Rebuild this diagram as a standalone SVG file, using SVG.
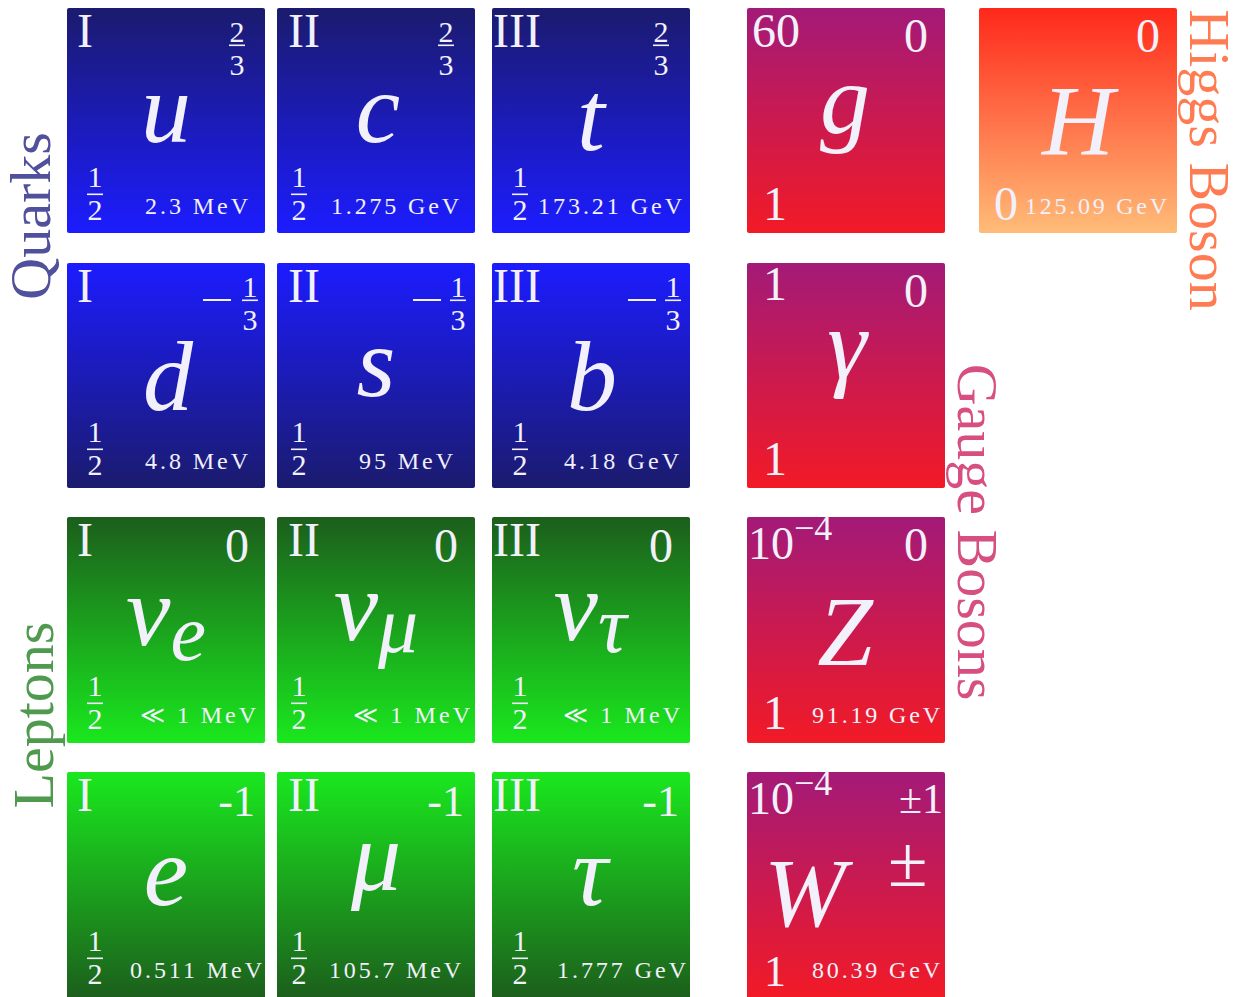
<svg xmlns="http://www.w3.org/2000/svg" width="1241" height="997" viewBox="0 0 1241 997">
<style>
text{font-family:"Liberation Serif","DejaVu Serif",serif;fill:#f2f0fa}
.gen{font-size:48px}
.fr{font-size:30px;text-anchor:middle}
.ch{font-size:48px;text-anchor:middle}
.neg{font-size:44px;text-anchor:end}
.sym{font-size:100px;font-style:italic;text-anchor:middle}
.ms{font-size:24px}
.sp{font-size:48px;text-anchor:middle}
.lbl{font-size:58px;text-anchor:middle}
.bar{fill:#f2f0fa}
</style>
<defs>
<linearGradient id="qa" x1="0" y1="0" x2="0" y2="1"><stop offset="0" stop-color="#1b1b6e"/><stop offset="1" stop-color="#1c1cff"/></linearGradient>
<linearGradient id="qb" x1="0" y1="0" x2="0" y2="1"><stop offset="0" stop-color="#1c1cff"/><stop offset="1" stop-color="#1b1b6e"/></linearGradient>
<linearGradient id="la" x1="0" y1="0" x2="0" y2="1"><stop offset="0" stop-color="#1c5e1c"/><stop offset="1" stop-color="#1ae81e"/></linearGradient>
<linearGradient id="lb" x1="0" y1="0" x2="0" y2="1"><stop offset="0" stop-color="#1ae81e"/><stop offset="1" stop-color="#1c5e1c"/></linearGradient>
<linearGradient id="gb" x1="0" y1="0" x2="0" y2="1"><stop offset="0" stop-color="#a31a78"/><stop offset="1" stop-color="#f21a26"/></linearGradient>
<linearGradient id="hg" x1="0" y1="0" x2="0" y2="1"><stop offset="0" stop-color="#ff281a"/><stop offset="1" stop-color="#ffbc78"/></linearGradient>
</defs>

<!-- Quarks row 1 -->
<g id="up">
<rect x="67" y="8" width="198" height="225" rx="2" fill="url(#qa)"/>
<text class="gen" x="77" y="47">I</text>
<text class="fr" x="237" y="42">2</text><rect class="bar" x="229" y="44.5" width="16" height="1.6"/><text class="fr" x="237" y="75">3</text>
<text class="sym" x="166" y="142">u</text>
<text class="fr" x="95" y="187">1</text><rect class="bar" x="87" y="193.5" width="16" height="1.6"/><text class="fr" x="95" y="220">2</text>
<text class="ms" x="145" y="214" textLength="103" lengthAdjust="spacing">2.3 MeV</text>
</g>
<g id="charm">
<rect x="277" y="8" width="198" height="225" rx="2" fill="url(#qa)"/>
<text class="gen" x="288" y="47">II</text>
<text class="fr" x="446" y="42">2</text><rect class="bar" x="438" y="44.5" width="16" height="1.6"/><text class="fr" x="446" y="75">3</text>
<text class="sym" x="378" y="142">c</text>
<text class="fr" x="299" y="187">1</text><rect class="bar" x="291" y="193.5" width="16" height="1.6"/><text class="fr" x="299" y="220">2</text>
<text class="ms" x="331" y="214" textLength="128" lengthAdjust="spacing">1.275 GeV</text>
</g>
<g id="top">
<rect x="492" y="8" width="198" height="225" rx="2" fill="url(#qa)"/>
<text class="gen" x="493" y="47">III</text>
<text class="fr" x="661" y="42">2</text><rect class="bar" x="653" y="44.5" width="16" height="1.6"/><text class="fr" x="661" y="75">3</text>
<text class="sym" x="591" y="150">t</text>
<text class="fr" x="520" y="187">1</text><rect class="bar" x="512" y="193.5" width="16" height="1.6"/><text class="fr" x="520" y="220">2</text>
<text class="ms" x="538" y="214" textLength="144" lengthAdjust="spacing">173.21 GeV</text>
</g>

<!-- Quarks row 2 -->
<g id="down">
<rect x="67" y="263" width="198" height="225" rx="2" fill="url(#qb)"/>
<text class="gen" x="77" y="302">I</text>
<rect class="bar" x="203" y="299" width="28" height="2"/>
<text class="fr" x="250" y="297">1</text><rect class="bar" x="242" y="299.5" width="16" height="1.6"/><text class="fr" x="250" y="330">3</text>
<text class="sym" x="168" y="410">d</text>
<text class="fr" x="95" y="442">1</text><rect class="bar" x="87" y="448.5" width="16" height="1.6"/><text class="fr" x="95" y="475">2</text>
<text class="ms" x="145" y="469" textLength="103" lengthAdjust="spacing">4.8 MeV</text>
</g>
<g id="strange">
<rect x="277" y="263" width="198" height="225" rx="2" fill="url(#qb)"/>
<text class="gen" x="288" y="302">II</text>
<rect class="bar" x="413" y="299" width="28" height="2"/>
<text class="fr" x="458" y="297">1</text><rect class="bar" x="450" y="299.5" width="16" height="1.6"/><text class="fr" x="458" y="330">3</text>
<text class="sym" x="376" y="396">s</text>
<text class="fr" x="299" y="442">1</text><rect class="bar" x="291" y="448.5" width="16" height="1.6"/><text class="fr" x="299" y="475">2</text>
<text class="ms" x="359" y="469" textLength="94" lengthAdjust="spacing">95 MeV</text>
</g>
<g id="bottom">
<rect x="492" y="263" width="198" height="225" rx="2" fill="url(#qb)"/>
<text class="gen" x="493" y="302">III</text>
<rect class="bar" x="628" y="299" width="28" height="2"/>
<text class="fr" x="673" y="297">1</text><rect class="bar" x="665" y="299.5" width="16" height="1.6"/><text class="fr" x="673" y="330">3</text>
<text class="sym" x="592" y="410">b</text>
<text class="fr" x="520" y="442">1</text><rect class="bar" x="512" y="448.5" width="16" height="1.6"/><text class="fr" x="520" y="475">2</text>
<text class="ms" x="564" y="469" textLength="115" lengthAdjust="spacing">4.18 GeV</text>
</g>

<!-- Leptons row 3 -->
<g id="nu-e">
<rect x="67" y="517" width="198" height="226" rx="2" fill="url(#la)"/>
<text class="gen" x="77" y="556">I</text>
<text class="ch" x="237" y="562">0</text>
<text class="sym" x="166" y="645">ν<tspan font-size="80" dy="15">e</tspan></text>
<text class="fr" x="95" y="696">1</text><rect class="bar" x="87" y="702.5" width="16" height="1.6"/><text class="fr" x="95" y="729">2</text>
<text class="ms" x="140" y="723" textLength="116" lengthAdjust="spacing">≪ 1 MeV</text>
</g>
<g id="nu-mu">
<rect x="277" y="517" width="198" height="226" rx="2" fill="url(#la)"/>
<text class="gen" x="288" y="556">II</text>
<text class="ch" x="446" y="562">0</text>
<text class="sym" x="376" y="640">ν<tspan font-size="80" dy="12">μ</tspan></text>
<text class="fr" x="299" y="696">1</text><rect class="bar" x="291" y="702.5" width="16" height="1.6"/><text class="fr" x="299" y="729">2</text>
<text class="ms" x="353" y="723" textLength="117" lengthAdjust="spacing">≪ 1 MeV</text>
</g>
<g id="nu-tau">
<rect x="492" y="517" width="198" height="226" rx="2" fill="url(#la)"/>
<text class="gen" x="493" y="556">III</text>
<text class="ch" x="661" y="562">0</text>
<text class="sym" x="590" y="640">ν<tspan font-size="80" dy="12">τ</tspan></text>
<text class="fr" x="520" y="696">1</text><rect class="bar" x="512" y="702.5" width="16" height="1.6"/><text class="fr" x="520" y="729">2</text>
<text class="ms" x="563" y="723" textLength="117" lengthAdjust="spacing">≪ 1 MeV</text>
</g>

<!-- Leptons row 4 -->
<g id="electron">
<rect x="67" y="772" width="198" height="227" rx="2" fill="url(#lb)"/>
<text class="gen" x="77" y="811">I</text>
<text class="neg" x="255" y="816">-1</text>
<text class="sym" x="166" y="905">e</text>
<text class="fr" x="95" y="951">1</text><rect class="bar" x="87" y="957.5" width="16" height="1.6"/><text class="fr" x="95" y="984">2</text>
<text class="ms" x="130" y="978" textLength="132" lengthAdjust="spacing">0.511 MeV</text>
</g>
<g id="muon">
<rect x="277" y="772" width="198" height="227" rx="2" fill="url(#lb)"/>
<text class="gen" x="288" y="811">II</text>
<text class="neg" x="464" y="816">-1</text>
<text class="sym" x="376" y="890">μ</text>
<text class="fr" x="299" y="951">1</text><rect class="bar" x="291" y="957.5" width="16" height="1.6"/><text class="fr" x="299" y="984">2</text>
<text class="ms" x="329" y="978" textLength="132" lengthAdjust="spacing">105.7 MeV</text>
</g>
<g id="tau">
<rect x="492" y="772" width="198" height="227" rx="2" fill="url(#lb)"/>
<text class="gen" x="493" y="811">III</text>
<text class="neg" x="679" y="816">-1</text>
<text class="sym" x="590" y="905">τ</text>
<text class="fr" x="520" y="951">1</text><rect class="bar" x="512" y="957.5" width="16" height="1.6"/><text class="fr" x="520" y="984">2</text>
<text class="ms" x="557" y="978" textLength="129" lengthAdjust="spacing">1.777 GeV</text>
</g>

<!-- Gauge bosons -->
<g id="gluon">
<rect x="747" y="8" width="198" height="225" rx="2" fill="url(#gb)"/>
<text class="gen" x="752" y="47">60</text>
<text class="ch" x="916" y="52">0</text>
<text class="sym" x="845" y="133">g</text>
<text class="sp" x="775" y="220">1</text>
</g>
<g id="photon">
<rect x="747" y="263" width="198" height="225" rx="2" fill="url(#gb)"/>
<text class="sp" x="775" y="300">1</text>
<text class="ch" x="916" y="307">0</text>
<text class="sym" x="847" y="378">γ</text>
<text class="sp" x="775" y="475">1</text>
</g>
<g id="z-boson">
<rect x="747" y="517" width="198" height="226" rx="2" fill="url(#gb)"/>
<text x="748" y="559" font-size="46">10<tspan font-size="36" dy="-19">−4</tspan></text>
<text class="ch" x="916" y="561">0</text>
<text class="sym" x="845" y="665">Z</text>
<text class="sp" x="775" y="729">1</text>
<text class="ms" x="812" y="723" textLength="128" lengthAdjust="spacing">91.19 GeV</text>
</g>
<g id="w-boson">
<rect x="747" y="772" width="198" height="227" rx="2" fill="url(#gb)"/>
<text x="748" y="814" font-size="46">10<tspan font-size="36" dy="-19">−4</tspan></text>
<text x="943" y="813" font-size="42" text-anchor="end">±1</text>
<text x="764" y="926" font-size="98" font-style="italic">W</text>
<text x="888" y="886" font-size="72">±</text>
<text x="775" y="986" font-size="44" text-anchor="middle">1</text>
<text class="ms" x="812" y="978" textLength="128" lengthAdjust="spacing">80.39 GeV</text>
</g>

<!-- Higgs -->
<g id="higgs">
<rect x="979" y="8" width="198" height="225" rx="2" fill="url(#hg)"/>
<text class="ch" x="1148" y="52">0</text>
<text class="sym" x="1078" y="154">H</text>
<text class="sp" x="1006" y="220">0</text>
<text class="ms" x="1025" y="214" textLength="142" lengthAdjust="spacing">125.09 GeV</text>
</g>

<!-- Group labels -->
<g id="labels">
<text class="lbl" transform="translate(50,216) rotate(-90)" style="fill:#50509c">Quarks</text>
<text class="lbl" transform="translate(53,715) rotate(-90)" style="fill:#4f9a4f">Leptons</text>
<text class="lbl" transform="translate(958,532) rotate(90)" style="fill:#d64f80">Gauge Bosons</text>
<text class="lbl" transform="translate(1190,160) rotate(90)" style="fill:#ff7b52">Higgs Boson</text>
</g>
</svg>
